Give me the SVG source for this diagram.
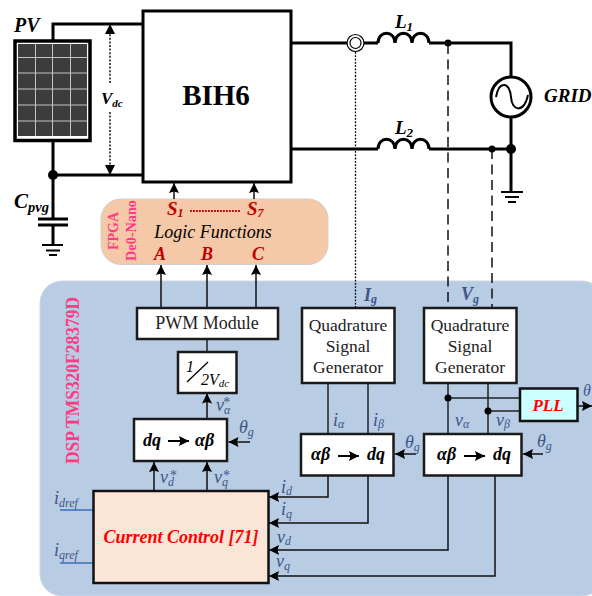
<svg xmlns="http://www.w3.org/2000/svg" width="592" height="596" viewBox="0 0 592 596">
<defs>
<marker id="a" markerUnits="userSpaceOnUse" markerWidth="11" markerHeight="10" refX="10" refY="5" orient="auto"><path d="M0 0L10 5L0 10L1.500 5Z" fill="#000"/></marker>
</defs>
<style>
text{font-family:"Liberation Serif","Times New Roman",serif}
.bi{font-style:italic;font-weight:bold}
.i{font-style:italic}
.lab{fill:#3f5587;font-style:italic;font-size:18px}
.star{font-size:14px;font-style:normal}
.red{fill:#c00000;font-style:italic;font-weight:bold}
.pk{fill:#ff3b83;font-weight:bold}
.m{text-anchor:middle}
.box{fill:#fff;stroke:#1a1a1a;stroke-width:2.5}
.thick{fill:none;stroke:#000;stroke-width:3}
.thin{fill:none;stroke:#222;stroke-width:1.5}
.arr{fill:none;stroke:#111;stroke-width:1.5;marker-end:url(#a)}
.arr2{fill:none;stroke:#000;stroke-width:2;marker-end:url(#a)}
.bl{fill:none;stroke:#3b6fc0;stroke-width:1.3}
</style>

<g id="dsp-panel"><rect x="40" y="281" width="564" height="315" rx="22" fill="#b8cce4" stroke="#cfd6e2"/></g>
<g id="fpga-panel"><rect x="101" y="199" width="227" height="65.500" rx="20" fill="#f5c8a8" stroke="#cfcfcf"/></g>

<g id="connectors">
<path class="thick" d="M53 41V24H143M53 140V175H143M53 175V219M53 225V245"/>
<path class="thick" d="M291 43H378M429 43H511V77M511 117V192M291 149H378M429 149H511"/>
<path d="M110 83V30M110 112V170" fill="none" stroke="#111" stroke-width="1.500" stroke-dasharray="2 1.600"/>
<path d="M110 24L115 34H105Z M110 175L105 165H115Z" fill="#000"/>
<path d="M355.500 52V308" fill="none" stroke="#000" stroke-width="1.300" stroke-dasharray="1.800 1.500"/>
<path d="M448 44V308M492 149V308" fill="none" stroke="#111" stroke-width="1.500" stroke-dasharray="10 5.500"/>
<path class="arr" d="M174 199V183"/><path class="arr" d="M254 199V183"/>
<path class="arr" d="M161 308V265"/><path class="arr" d="M207 308V265"/><path class="arr" d="M256 308V265"/>
<path class="thin" d="M207 339V352"/>
<path class="arr" d="M207 418V393.500"/>
<path class="arr" d="M154 491V462"/><path class="arr" d="M207 491V462"/>
<path class="arr" d="M250 442H228.500"/>
<path class="bl" d="M60 510H93M60 563H93"/>
<path class="thin" d="M328 384V433M368 384V433M448 384V433M488 384V433"/>
<path class="arr" d="M328 476V497H269"/><path class="arr" d="M368 476V523H269"/><path class="arr" d="M448 476V550H269"/><path class="arr" d="M495 476V576H269"/>
<path class="thin" d="M448 398H520M488 411H520"/>
<circle cx="448" cy="398" r="3.500"/><circle cx="488" cy="411" r="3.500"/>
<path class="arr" d="M416 454H395"/><path class="arr" d="M543 454H523"/><path class="arr" d="M578 406H592"/>
<circle cx="53" cy="175" r="5"/><circle cx="448" cy="43" r="3.500"/><circle cx="492" cy="149" r="3.500"/><circle cx="511" cy="149" r="5"/>
</g>

<g id="pv"><rect x="15" y="41" width="75" height="99.500" fill="#fff" stroke="#000" stroke-width="3.500"/>
<rect x="18" y="44" width="69" height="92" fill="#3c3c3c"/>
<path d="M35.500 44V136M52.500 44V136M70.500 44V136M18 57.500H87M18 73H87M18 89H87M18 105H87M18 121H87" stroke="#c4c4c4" stroke-width="1"/>
<text x="14" y="32" class="bi" font-size="20">PV</text></g>

<g id="cpvg"><path d="M38 219H68M38 225H68" stroke="#000" stroke-width="3" fill="none"/><path d="M42 245H63M46 250.500H60M49 255H57" stroke="#000" stroke-width="2" fill="none"/>
<text x="14" y="208" class="bi" font-size="21">C<tspan dy="4" font-size="14.500">pvg</tspan></text></g>

<g id="vdc"><text x="101" y="104" class="i" font-size="17" font-weight="bold">V<tspan dy="3" font-size="11">dc</tspan></text></g>

<g id="bih6"><rect x="143" y="11" width="148" height="171" fill="#fff" stroke="#000" stroke-width="3"/>
<text x="216" y="105" class="m" font-size="29" font-weight="bold">BIH6</text></g>

<g id="ct"><circle cx="355.500" cy="43" r="8.500" fill="#fff" stroke="#000" stroke-width="1.200"/><circle cx="355.500" cy="43" r="5.500" fill="none" stroke="#000" stroke-width="1.200"/></g>

<g id="l1"><path class="thick" d="M378 43C378 30 395 30 395 43C395 30 412 30 412 43C412 30 429 30 429 43"/>
<text x="395" y="28" class="bi" font-size="19">L<tspan dy="3" font-size="13">1</tspan></text></g>
<g id="l2"><path class="thick" d="M378 149C378 136 395 136 395 149C395 136 412 136 412 149C412 136 429 136 429 149"/>
<text x="395" y="134" class="bi" font-size="19">L<tspan dy="3" font-size="13">2</tspan></text></g>

<g id="grid"><circle cx="511" cy="97" r="20" fill="#fff" stroke="#000" stroke-width="3"/>
<path d="M496 97C499 80 510 82 511 97C512 112 524 113 528 95" fill="none" stroke="#000" stroke-width="2"/>
<text x="544" y="102" class="bi" font-size="19">GRID</text>
<path d="M501 192H523M505 197H519M508 202H516" stroke="#000" stroke-width="2" fill="none"/></g>

<g id="fpga-text">
<text transform="translate(118 250) rotate(-90)" class="pk" font-size="15.500" textLength="38" lengthAdjust="spacingAndGlyphs">FPGA</text>
<text transform="translate(136 261) rotate(-90)" class="pk" font-size="15.500" textLength="61" lengthAdjust="spacingAndGlyphs">De0-Nano</text>
<text x="167" y="215" class="red" font-size="19">S<tspan dy="2" font-size="12">1</tspan></text>
<text x="247" y="215" class="red" font-size="19">S<tspan dy="2" font-size="12">7</tspan></text>
<path d="M190 211H241" stroke="#c00000" stroke-width="1.800" stroke-dasharray="1.800 1.200"/>
<text x="213" y="238" class="i m" font-size="18">Logic Functions</text>
<text x="160" y="260" class="red m" font-size="18">A</text>
<text x="207" y="260" class="red m" font-size="18">B</text>
<text x="258" y="260" class="red m" font-size="18">C</text>
</g>

<g id="dsp-label"><text transform="translate(79 464) rotate(-90)" class="pk" font-size="18.500" textLength="167" lengthAdjust="spacingAndGlyphs">DSP TMS320F28379D</text></g>

<g id="pwm"><rect class="box" x="137" y="308" width="141" height="31"/><text x="207" y="329" class="m" font-size="18" fill="#222">PWM Module</text></g>

<g id="gain"><rect class="box" x="178" y="352" width="58.500" height="41"/>
<path d="M187 382L208 362" stroke="#000" stroke-width="1.300"/>
<text x="186" y="372" class="i" font-size="16">1</text>
<text x="201" y="385" class="i" font-size="16">2V<tspan dy="2" font-size="11">dc</tspan></text></g>

<g id="dq-ab"><rect class="box" x="134" y="419" width="93" height="42"/>
<text x="143" y="446" class="bi" font-size="18">dq</text><path class="arr2" d="M168 441H189"/><text x="195" y="446" class="bi" font-size="18">αβ</text></g>

<g id="current-control"><rect x="93.500" y="491" width="175" height="92" fill="#fbe5d6" stroke="#111" stroke-width="2.500"/>
<text x="181" y="543" class="bi m" font-size="18" fill="#f00">Current Control [71]</text></g>

<g id="qsg1"><rect class="box" x="302" y="308" width="92.500" height="75"/>
<text class="m" font-size="17.500" fill="#222"><tspan x="348" y="331">Quadrature</tspan><tspan x="348" y="352">Signal</tspan><tspan x="348" y="373">Generator</tspan></text></g>
<g id="qsg2"><rect class="box" x="424" y="308" width="92.500" height="75"/>
<text class="m" font-size="17.500" fill="#222"><tspan x="470" y="331">Quadrature</tspan><tspan x="470" y="352">Signal</tspan><tspan x="470" y="373">Generator</tspan></text></g>

<g id="ab-dq1"><rect class="box" x="301" y="434" width="92.500" height="41.500"/>
<text x="311" y="460" class="bi" font-size="18">αβ</text><path class="arr2" d="M338 456H359"/><text x="367" y="460" class="bi" font-size="18">dq</text></g>
<g id="ab-dq2"><rect class="box" x="424" y="434" width="97.500" height="41.500"/>
<text x="437" y="460" class="bi" font-size="18">αβ</text><path class="arr2" d="M464 456H485"/><text x="493" y="460" class="bi" font-size="18">dq</text></g>

<g id="pll"><rect x="520" y="388.500" width="57.500" height="32.500" fill="#ccffff" stroke="#111" stroke-width="2.500"/>
<text x="548" y="411" class="bi m" font-size="17" fill="#f00">PLL</text></g>

<g id="signals">
<text x="364" y="301" class="lab" font-weight="bold">I<tspan dy="2" font-size="12">g</tspan></text>
<text x="461" y="300" class="lab" font-weight="bold">V<tspan dy="3" font-size="12">g</tspan></text>
<text x="216" y="411" class="lab">v<tspan dy="3" font-size="12">α</tspan><tspan class="star" dx="-7" dy="-7">*</tspan></text>
<text x="160" y="483" class="lab">v<tspan dy="3" font-size="12">d</tspan><tspan class="star" dx="-4" dy="-6">*</tspan></text>
<text x="214" y="483" class="lab">v<tspan dy="3" font-size="12">q</tspan><tspan class="star" dx="-5" dy="-6">*</tspan></text>
<text x="239" y="433" class="lab">θ<tspan dy="3" font-size="12">g</tspan></text>
<text x="405" y="448" class="lab">θ<tspan dy="3" font-size="12">g</tspan></text>
<text x="537" y="447" class="lab">θ<tspan dy="3" font-size="12">g</tspan></text>
<text x="583" y="396" class="lab" style="font-size:16px">θ</text>
<text x="54" y="504" class="lab">i<tspan dy="3" font-size="12">dref</tspan></text>
<text x="54" y="556" class="lab">i<tspan dy="3" font-size="12">qref</tspan></text>
<text x="281" y="493" class="lab">i<tspan dy="2" font-size="12">d</tspan></text>
<text x="281" y="515" class="lab">i<tspan dy="3" font-size="12">q</tspan></text>
<text x="277" y="543" class="lab">v<tspan dy="2" font-size="12">d</tspan></text>
<text x="276" y="567" class="lab">v<tspan dy="3" font-size="12">q</tspan></text>
<text x="333" y="426" class="lab">i<tspan dy="2" font-size="12">α</tspan></text>
<text x="373" y="426" class="lab">i<tspan dy="2" font-size="12">β</tspan></text>
<text x="455" y="426" class="lab">v<tspan dy="2" font-size="12">α</tspan></text>
<text x="496" y="426" class="lab">v<tspan dy="2" font-size="12">β</tspan></text>
</g>
</svg>
